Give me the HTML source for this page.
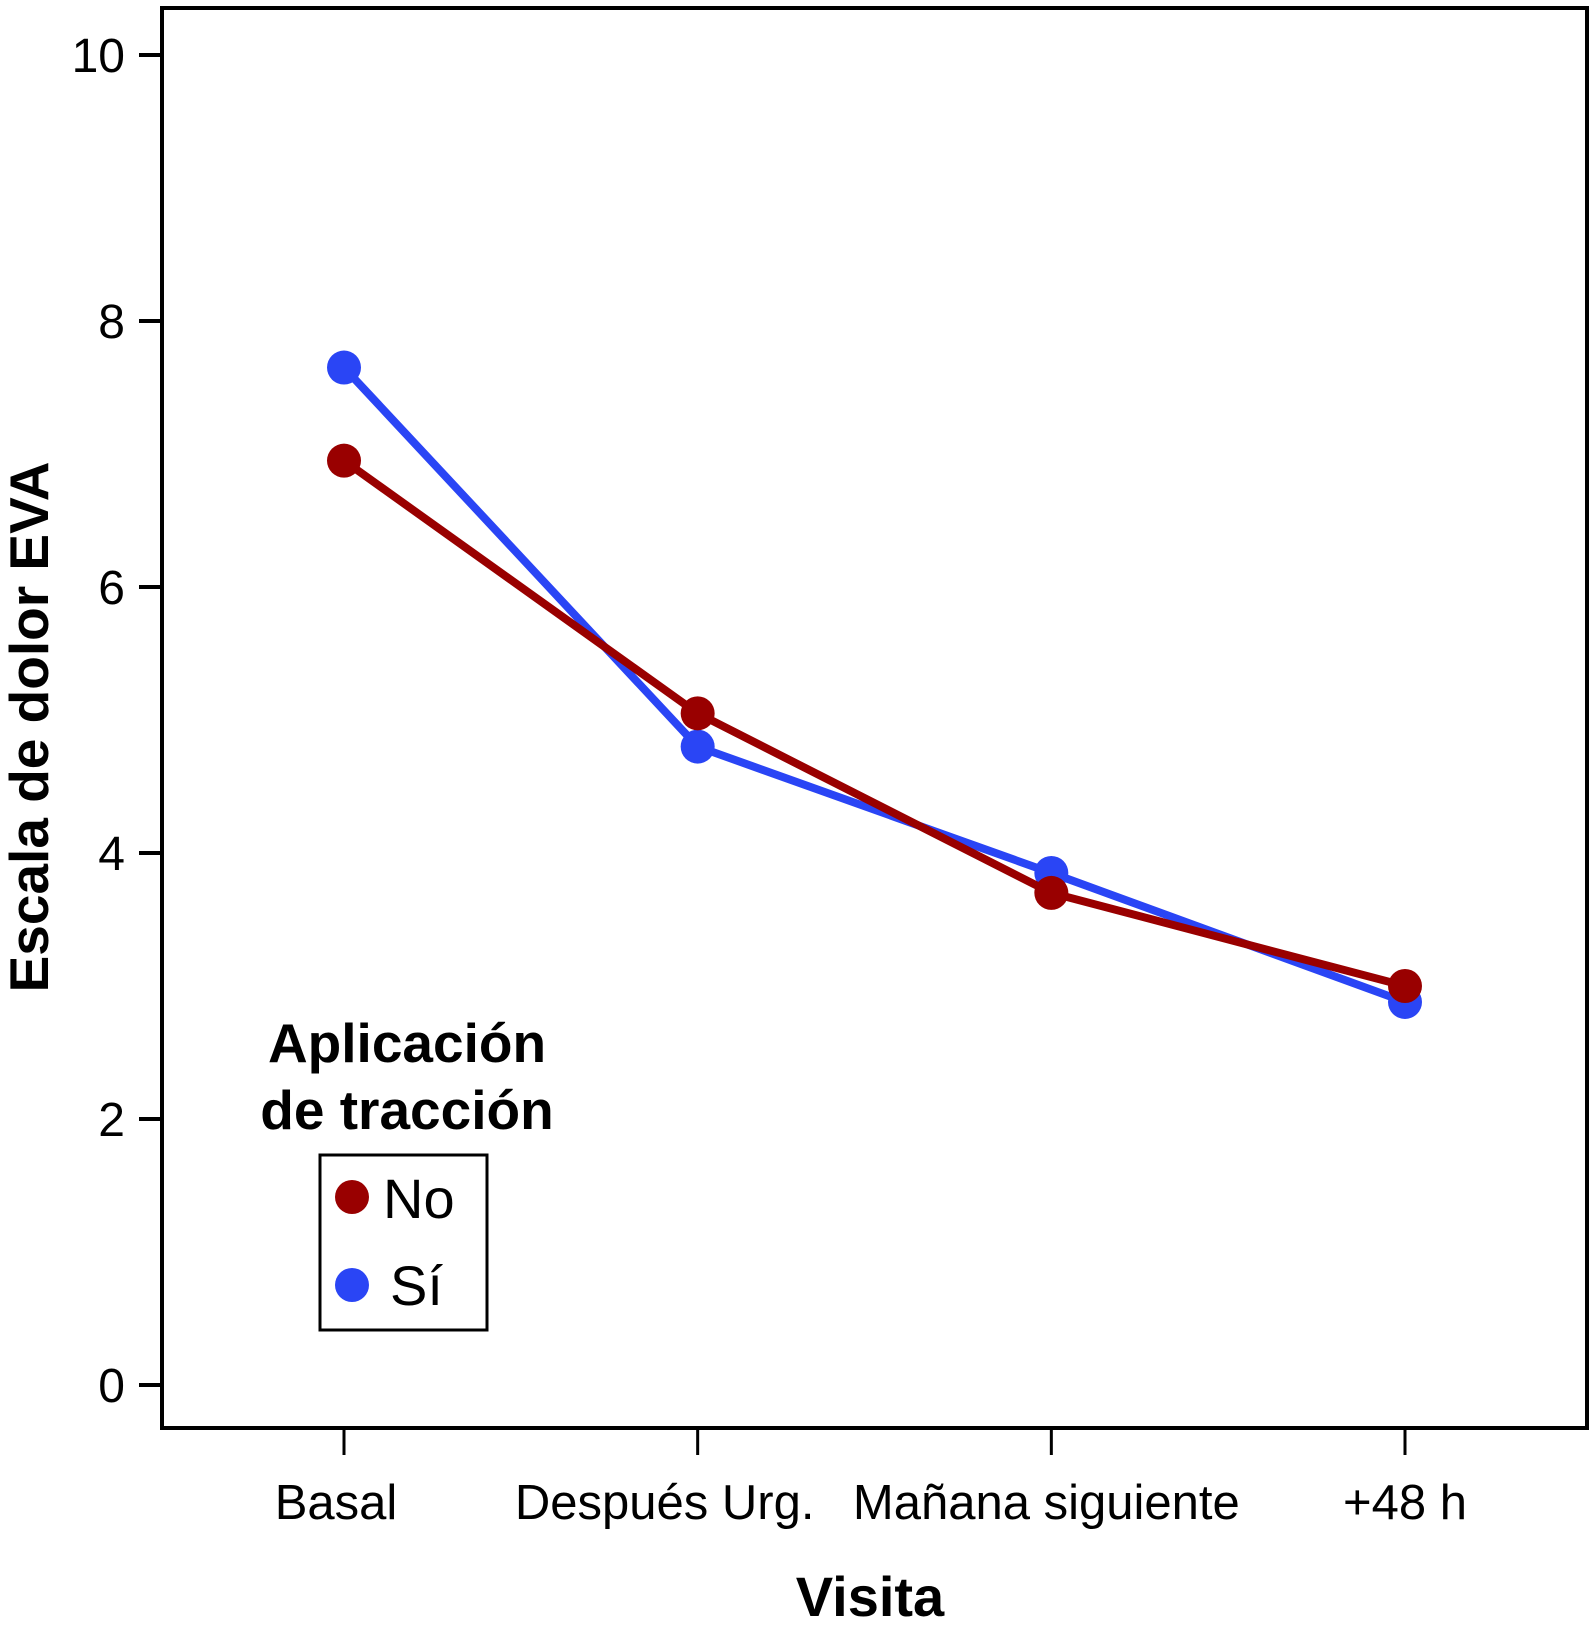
<!DOCTYPE html>
<html><head><meta charset="utf-8"><style>
html,body{margin:0;padding:0;background:#fff}
svg text{font-family:"Liberation Sans",Arial,sans-serif}
</style></head><body>
<svg id="chart" width="1590" height="1625" xmlns="http://www.w3.org/2000/svg">
<rect x="162" y="8" width="1425" height="1420" fill="none" stroke="#000" stroke-width="4"/>
<g id="yticks"></g><g id="xticks"></g><g id="series"></g>
<text transform="translate(48,727) rotate(-90)" text-anchor="middle" font-size="55" font-weight="bold">Escala de dolor EVA</text>
<text x="870" y="1616" text-anchor="middle" font-size="56" font-weight="bold">Visita</text>
<g>
<text x="407" y="1062" text-anchor="middle" font-size="55" font-weight="bold">Aplicación</text>
<text x="407" y="1129" text-anchor="middle" font-size="55" font-weight="bold">de tracción</text>
<rect x="320" y="1155" width="167" height="175" fill="none" stroke="#000" stroke-width="3"/>
<circle cx="352" cy="1197" r="17" fill="#990000"/>
<text x="383" y="1218" font-size="56">No</text>
<circle cx="352" cy="1285" r="17" fill="#2a45f5"/>
<text x="390" y="1305" font-size="56">Sí</text>
</g>
</svg>
<script>
const categories=["Basal","Después Urg.","Mañana siguiente","+48 h"];
const yTicks=[0,2,4,6,8,10];
const seriesNo=[6.95,5.05,3.7,3.0];
const seriesSi=[7.65,4.8,3.85,2.88];
const NS="http://www.w3.org/2000/svg";
const xPos=[344,1405];
const labelShift=[-8,-33,-5,0];
function x(i){return xPos[0]+(xPos[1]-xPos[0])*i/(categories.length-1);}
function y(v){return 1385-(1385-55)*v/10;}
function mk(tag,attrs,parent){const e=document.createElementNS(NS,tag);for(const k in attrs)e.setAttribute(k,attrs[k]);parent.appendChild(e);return e;}
const yt=document.getElementById('yticks');
yTicks.forEach(v=>{
 const l=mk('line',{x1:139,x2:162,y1:y(v),y2:y(v),stroke:'#000','stroke-width':4},yt);
 
 
 const t=mk('text',{x:125,y:y(v)+17,'text-anchor':'end','font-size':48},yt);
 
 
 t.textContent=v;
});
const xt=document.getElementById('xticks');
categories.forEach((c,i)=>{
 const l=mk('line',{x1:x(i),x2:x(i),y1:1428,y2:1455,stroke:'#000','stroke-width':3},xt);
 
 
 const t=mk('text',{x:x(i)+labelShift[i],y:1519,'text-anchor':'middle','font-size':49},xt);
 
 
 t.textContent=c;
});
const sg=document.getElementById('series');
[[seriesSi,'#2a45f5','si'],[seriesNo,'#990000','no']].forEach(([d,col,nm])=>{
 const p=mk('polyline',{points:d.map((v,i)=>x(i)+','+y(v)).join(' '),fill:'none',stroke:col,'stroke-width':8,'stroke-linejoin':'round'},sg);
 
 
 d.forEach((v,i)=>{
  const c=mk('circle',{cx:x(i),cy:y(v),r:17,fill:col},sg);
  
  
 });
});
</script>
</body></html>
